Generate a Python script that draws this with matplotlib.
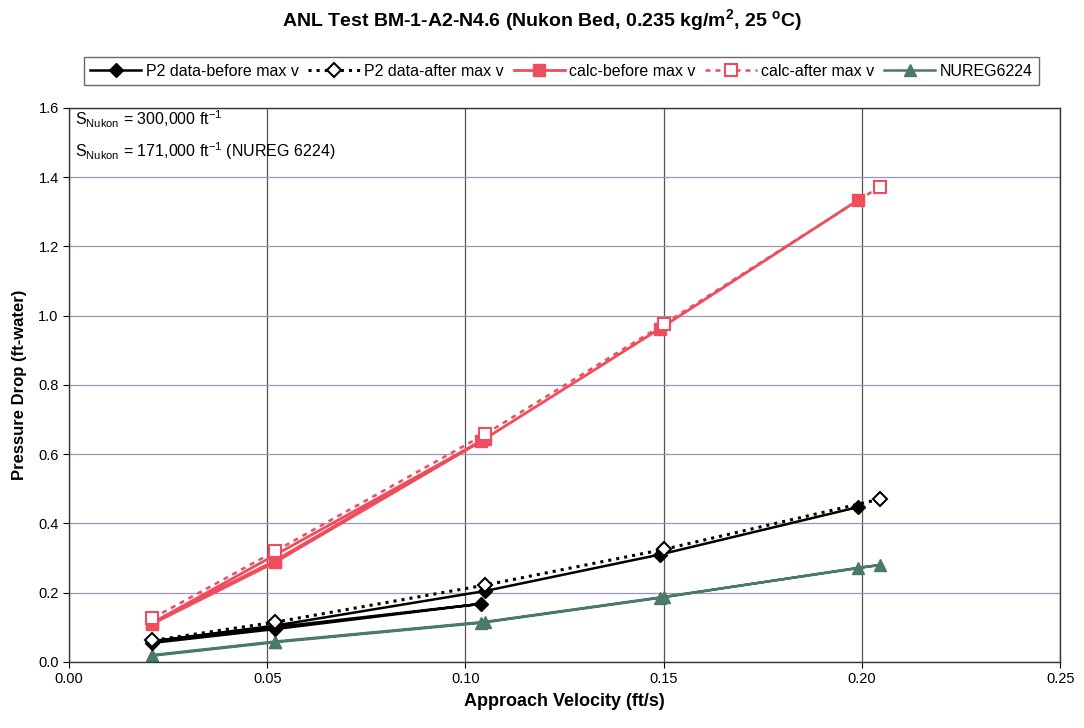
import matplotlib
matplotlib.use("Agg")
import matplotlib.pyplot as plt
from matplotlib.ticker import FixedLocator

plt.rcParams['font.family'] = ['Liberation Sans', 'DejaVu Sans']

# ---- data ----
p2_before_v = [0.021, 0.052, 0.104, 0.021, 0.052, 0.105, 0.149, 0.199]
p2_before_p = [0.055, 0.095, 0.168, 0.060, 0.105, 0.205, 0.310, 0.447]

p2_after_v = [0.2045, 0.150, 0.105, 0.052, 0.021]
p2_after_p = [0.470, 0.325, 0.222, 0.115, 0.062]

calc_before_v = [0.021, 0.052, 0.104, 0.021, 0.052, 0.105, 0.149, 0.199]
calc_before_p = [0.110, 0.288, 0.638, 0.113, 0.293, 0.645, 0.962, 1.333]

calc_after_v = [0.2045, 0.150, 0.105, 0.052, 0.021]
calc_after_p = [1.372, 0.975, 0.658, 0.320, 0.126]

nureg_v = [0.021, 0.052, 0.104, 0.149, 0.199, 0.2045, 0.150, 0.105, 0.052, 0.021]
nureg_p = [0.018, 0.057, 0.113, 0.185, 0.272, 0.280, 0.188, 0.116, 0.059, 0.020]

x_ticks = [0.00, 0.05, 0.10, 0.15, 0.20, 0.25]
y_ticks = [0.0, 0.2, 0.4, 0.6, 0.8, 1.0, 1.2, 1.4, 1.6]

title = "ANL Test BM-1-A2-N4.6 (Nukon Bed, 0.235 kg/m$^\\mathregular{2}$, 25 $^\\mathregular{o}$C)"

RED = '#EE4D5E'
GREEN = '#4B7A68'

fig = plt.figure(figsize=(10.84, 7.28), dpi=100)
ax = fig.add_axes([0.0637, 0.0907, 0.9143, 0.7613])

ax.plot(p2_before_v, p2_before_p, '-', color='black', lw=1.8, marker='D', ms=7,
        mfc='black', mec='black', label='P2 data-before max v', zorder=4)
ax.plot(p2_after_v, p2_after_p, ':', color='black', lw=2.2, marker='D', ms=7,
        mfc='white', mec='black', mew=1.5, label='P2 data-after max v', zorder=4)
ax.plot(calc_before_v, calc_before_p, '-', color=RED, lw=2.0, marker='s', ms=9,
        mfc=RED, mec=RED, label='calc-before max v', zorder=3)
ax.plot(calc_after_v, calc_after_p, linestyle=(0, (2, 2)), color=RED, lw=1.8, marker='s', ms=9,
        mfc='white', mec=RED, mew=1.5, label='calc-after max v', zorder=3)
ax.plot(nureg_v, nureg_p, '-', color=GREEN, lw=1.8, marker='^', ms=9,
        mfc=GREEN, mec=GREEN, label='NUREG6224', zorder=2)

ax.set_xlim(0, 0.25)
ax.set_ylim(0, 1.6)
ax.xaxis.set_major_locator(FixedLocator(x_ticks))
ax.yaxis.set_major_locator(FixedLocator(y_ticks))
ax.set_xticklabels([f"{t:.2f}" for t in x_ticks])
ax.set_yticklabels([f"{t:.1f}" for t in y_ticks])
ax.tick_params(labelsize=10.5, direction='out', length=4)

ax.xaxis.grid(True, color='#555555', lw=0.9)
ax.yaxis.grid(True, color='#9896B5', lw=0.9)
ax.set_axisbelow(True)
for s in ax.spines.values():
    s.set_color('#333333')
    s.set_linewidth(1.0)

ax.set_xlabel('Approach Velocity (ft/s)', fontsize=13, fontweight='bold', labelpad=5)
ax.set_ylabel('Pressure Drop (ft-water)', fontsize=12, fontweight='bold', labelpad=8)

fig.text(0.5, 0.972, title, ha='center', va='center', fontsize=14, fontweight='bold')

ax.text(0.0015, 1.568, "S$_\\mathregular{Nukon}$ = 300,000 ft$^\\mathregular{-1}$", fontsize=11.5, va='center')
ax.text(0.0015, 1.476, "S$_\\mathregular{Nukon}$ = 171,000 ft$^\\mathregular{-1}$ (NUREG 6224)", fontsize=11.5, va='center')

leg = fig.legend(loc='center', bbox_to_anchor=(0.518, 0.902), ncol=5, fontsize=11.5,
                 frameon=True, fancybox=False, edgecolor='#444444', handlelength=3.2,
                 columnspacing=0.6, handletextpad=0.3, borderpad=0.4)
leg.get_frame().set_linewidth(1.0)

fig.savefig('out.png', dpi=100)
